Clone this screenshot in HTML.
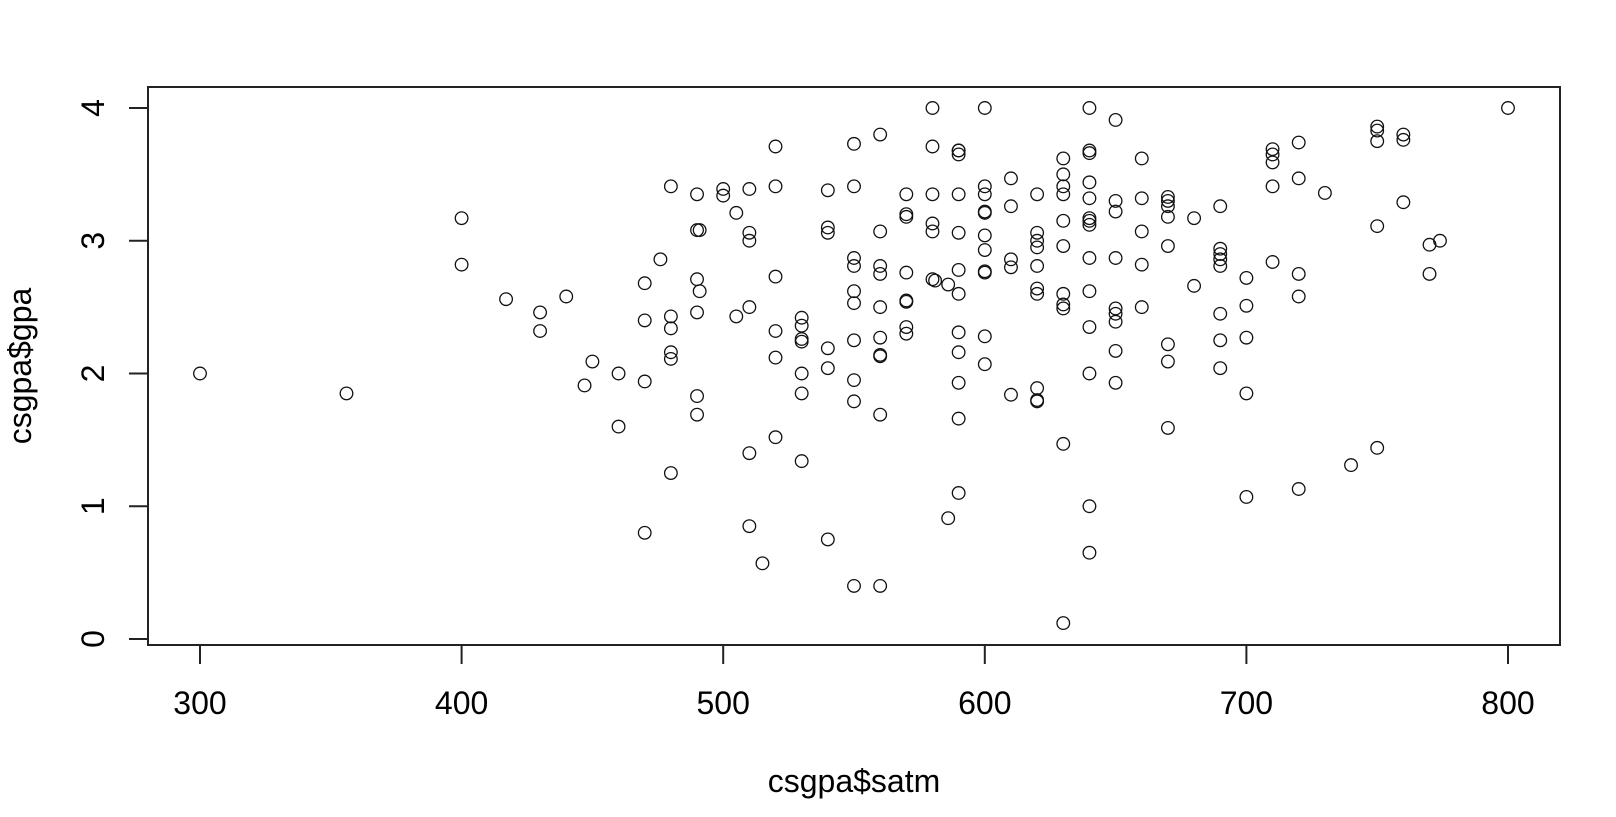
<!DOCTYPE html>
<html><head><meta charset="utf-8"><style>
html,body{margin:0;padding:0;background:#fff;}
svg text{font-family:"Liberation Sans",Arial,sans-serif;fill:#000;}
</style></head><body>
<svg id="chart" width="1616" height="812" xmlns="http://www.w3.org/2000/svg">
<rect x="148" y="87" width="1412" height="558" fill="none" stroke="#222" stroke-width="2"/>
<g id="axes"></g>
<g id="points"></g>
<text x="854" y="792" font-size="32" text-anchor="middle">csgpa$satm</text>
<text transform="translate(31,366) rotate(-90)" font-size="32" text-anchor="middle">csgpa$gpa</text>
</svg>
<script>
const satm = [300,356,400,400,417,430,430,440,447,450,460,460,470,470,470,470,476,480,480,480,480,480,480,
490,490,491,490,491,490,490,490,500,500,505,505,510,510,510,510,510,510,515,520,520,520,520,520,520,
530,530,530,530,530,530,530,540,540,540,540,540,540,550,550,550,550,550,550,550,550,550,550,
560,560,560,560,560,560,560,560,560,560,570,570,570,570,570,570,570,570,580,580,580,580,580,580,581,586,586,
590,590,590,590,590,590,590,590,590,590,590,590,600,600,600,600,600,600,600,600,600,600,600,
610,610,610,610,610,620,620,620,620,620,620,620,620,620,620,
630,630,630,630,630,630,630,630,630,630,630,640,640,640,640,640,640,640,640,640,640,640,640,640,640,
650,650,650,650,650,650,650,650,650,660,660,660,660,660,670,670,670,670,670,670,670,670,680,680,
690,690,690,690,690,690,690,690,700,700,700,700,700,710,710,710,710,710,720,720,720,720,720,730,740,
750,750,750,750,750,760,760,760,770,770,774,800];
const gpa = [2.0,1.85,3.17,2.82,2.56,2.46,2.32,2.58,1.91,2.09,2.0,1.6,2.68,2.4,1.94,0.8,2.86,3.41,2.43,2.34,2.16,2.11,1.25,
3.35,3.08,3.08,2.71,2.62,2.46,1.83,1.69,3.39,3.34,3.21,2.43,3.39,3.06,3.0,2.5,1.4,0.85,0.57,3.71,3.41,2.73,2.32,2.12,1.52,
2.42,2.36,2.26,2.24,2.0,1.85,1.34,3.38,3.1,3.06,2.19,2.04,0.75,3.73,3.41,2.87,2.81,2.62,2.53,2.25,1.95,1.79,0.4,
3.8,3.07,2.81,2.75,2.5,2.27,2.14,2.13,1.69,0.4,3.35,3.2,3.18,2.76,2.55,2.54,2.35,2.3,4.0,3.71,3.35,3.13,3.07,2.71,2.7,2.67,0.91,
3.68,3.65,3.35,3.06,2.78,2.6,2.31,2.16,1.93,1.66,1.1,3.68,4.0,3.41,3.35,3.22,3.21,3.04,2.93,2.77,2.76,2.28,2.07,
3.47,3.26,2.86,2.8,1.84,3.35,3.06,3.0,2.95,2.81,2.64,2.6,1.89,1.8,1.79,
3.62,3.5,3.41,3.35,3.15,2.96,2.6,2.52,2.49,1.47,0.12,4.0,3.68,3.66,3.44,3.32,3.17,3.15,3.12,2.87,2.62,2.35,2.0,1.0,0.65,
3.91,3.3,3.22,2.87,2.49,2.45,2.39,2.17,1.93,3.62,3.32,3.07,2.82,2.5,3.33,3.3,3.26,3.18,2.96,2.22,2.09,1.59,3.17,2.66,
3.26,2.94,2.9,2.86,2.81,2.45,2.25,2.04,2.72,2.51,2.27,1.85,1.07,3.69,3.65,3.59,3.41,2.84,3.74,3.47,2.75,2.58,1.13,3.36,1.31,
3.86,3.83,3.75,3.11,1.44,3.8,3.76,3.29,2.97,2.75,3.0,4.0];
const xTicks = [300,400,500,600,700,800];
const yTicks = [0,1,2,3,4];

const NS = "http://www.w3.org/2000/svg";
function xs(v){ return 200 + (v-300)*2.616; }
function ys(v){ return 639 - v*132.75; }
const axes = document.getElementById('axes');
const pts = document.getElementById('points');
function mk(tag, attrs, parent){ const e=document.createElementNS(NS,tag); for(const k in attrs) e.setAttribute(k,attrs[k]); parent.appendChild(e); return e; }

xTicks.forEach(t=>{
  const l = mk('line',{x1:xs(t),x2:xs(t),y1:645,y2:664,stroke:'#222','stroke-width':2},axes);
  
  
  const tx = mk('text',{x:xs(t),y:714,'font-size':32,'text-anchor':'middle'},axes);
  tx.textContent = t;
  
  
});
yTicks.forEach(t=>{
  const l = mk('line',{x1:129,x2:148,y1:ys(t),y2:ys(t),stroke:'#222','stroke-width':2},axes);
  
  
  const tx = mk('text',{transform:`translate(104,${ys(t)}) rotate(-90)`,'font-size':32,'text-anchor':'middle'},axes);
  tx.textContent = t;
  
  
});
satm.forEach((s,i)=>{
  const c = mk('circle',{cx:xs(s),cy:ys(gpa[i]),r:6.3,fill:'none',stroke:'#111','stroke-width':1.3},pts);
  
  
});
</script>
</body></html>
